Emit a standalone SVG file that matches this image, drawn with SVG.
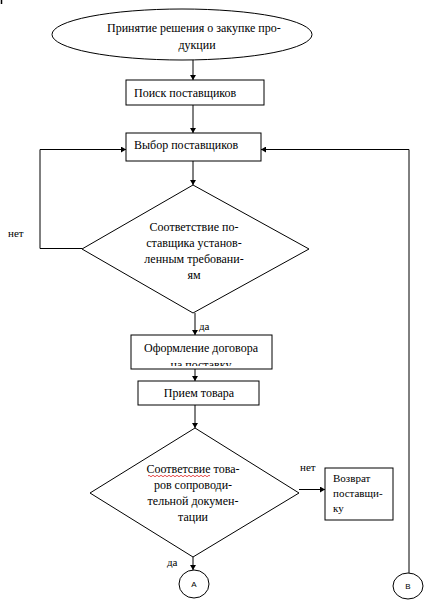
<svg xmlns="http://www.w3.org/2000/svg" width="439" height="607" viewBox="0 0 439 607">
<style>
.s{fill:#fff;stroke:#000;stroke-width:1}
.c{fill:none;stroke:#000;stroke-width:1}
.t{font-family:"Liberation Serif","Times New Roman",serif;font-size:12px;fill:#000}
.m{text-anchor:middle}
.l{font-family:"Liberation Serif","Times New Roman",serif;font-size:11px;fill:#000}
.cl{font-family:"Liberation Sans",Arial,sans-serif;font-size:8px;fill:#000;text-anchor:middle}
</style>
<defs>
<marker id="ah" markerWidth="6" markerHeight="6" refX="5" refY="3" orient="auto" markerUnits="userSpaceOnUse">
<path d="M0,0 L5,3 L0,6 z" fill="#000"/>
</marker>
<clipPath id="cp1"><rect x="131" y="335" width="141" height="31"/></clipPath>
</defs>
<rect width="439" height="607" fill="#fff"/>
<line x1="1.5" y1="0" x2="1.5" y2="4" stroke="#000" stroke-width="1.5"/>
<g id="connectors">
<line class="c" x1="193" y1="60" x2="193" y2="80" marker-end="url(#ah)"/>
<line class="c" x1="193" y1="105" x2="193" y2="133" marker-end="url(#ah)"/>
<polyline class="c" points="82,248.5 40,248.5 40,149.5 126,149.5" marker-end="url(#ah)"/>
<polyline class="c" points="409,573 409,149.5 261,149.5" marker-end="url(#ah)"/>
<line class="c" x1="193" y1="161" x2="193" y2="185" marker-end="url(#ah)"/>
<line class="c" x1="195" y1="313" x2="195" y2="335" marker-end="url(#ah)"/>
<line class="c" x1="195" y1="369" x2="195" y2="381" marker-end="url(#ah)"/>
<line class="c" x1="195" y1="405" x2="195" y2="428" marker-end="url(#ah)"/>
<line class="c" x1="299" y1="489.5" x2="325" y2="489.5" marker-end="url(#ah)"/>
<line class="c" x1="193" y1="557" x2="193" y2="570" marker-end="url(#ah)"/>
<text class="l" x="8" y="237">нет</text>
<text class="l" x="199" y="330">да</text>
<text class="l" x="300" y="471">нет</text>
<text class="l" x="167" y="566">да</text>
</g>
<g id="start">
<ellipse class="s" cx="182" cy="34.5" rx="130" ry="25.5"/>
<text class="t" x="107" y="32">Принятие решения о закупке про-</text>
<text class="t m" x="197" y="49">дукции</text>
</g>
<g id="search">
<rect class="s" x="126" y="80" width="138" height="25"/>
<text class="t" x="134" y="97">Поиск поставщиков</text>
</g>
<g id="select">
<rect class="s" x="126" y="133" width="135" height="28"/>
<text class="t" x="134" y="149">Выбор поставщиков</text>
</g>
<g id="check1">
<polygon class="s" points="193,185 309,249 193,313 82,249"/>
<text class="t m" x="194" y="231">Соответствие по-</text>
<text class="t m" x="194" y="247">ставщика установ-</text>
<text class="t m" x="194" y="263">ленным требовани-</text>
<text class="t m" x="194" y="279">ям</text>
</g>
<g id="contract">
<rect class="s" x="131" y="335" width="141" height="34"/>
<g clip-path="url(#cp1)">
<text class="t m" x="201" y="352" font-size="13">Оформление договора</text>
<text class="t m" x="201" y="369" font-size="13">на поставку</text>
</g>
</g>
<g id="receive">
<rect class="s" x="138" y="381" width="121" height="24"/>
<text class="t m" x="199" y="397" font-size="13">Прием товара</text>
</g>
<g id="check2">
<polygon class="s" points="195,428 299,493 193,557 90,493"/>
<text class="t m" x="193" y="473" font-size="13">Соответсвие това-</text>
<path d="M148,476 q1,-1.5 2,0 t2,0 t2,0 t2,0 t2,0 t2,0 t2,0 t2,0 t2,0 t2,0 t2,0 t2,0 t2,0 t2,0 t2,0 t2,0 t2,0 t2,0 t2,0 t2,0 t2,0 t2,0 t2,0 t2,0 t2,0 t2,0 t2,0 t2,0 t2,0 t2,0 t2,0" fill="none" stroke="#e02020" stroke-width="0.8"/>
<text class="t m" x="193" y="489" font-size="13">ров сопроводи-</text>
<text class="t m" x="193" y="505" font-size="13">тельной докумен-</text>
<text class="t m" x="193" y="521" font-size="13">тации</text>
</g>
<g id="return">
<rect class="s" x="325" y="468" width="68" height="52"/>
<text class="l" x="333" y="482">Возврат</text>
<text class="l" x="333" y="497">поставщи-</text>
<text class="l" x="333" y="512">ку</text>
</g>
<g id="connA">
<ellipse class="s" cx="194" cy="584" rx="15" ry="14"/>
<text class="cl" x="194" y="587">A</text>
</g>
<g id="connB">
<ellipse class="s" cx="408" cy="586" rx="15" ry="13"/>
<text class="cl" x="408" y="589">B</text>
</g>
</svg>
